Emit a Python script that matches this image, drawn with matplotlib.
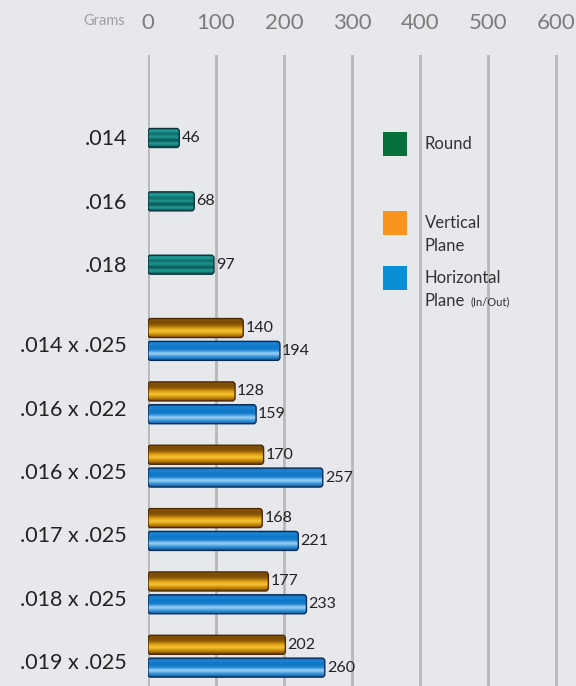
import numpy as np
import matplotlib.pyplot as plt
from matplotlib.patches import FancyBboxPatch, Rectangle
from matplotlib.colors import LinearSegmentedColormap

plt.rcParams['font.family'] = ['Lato', 'DejaVu Sans']

# data
roundLabels = ['.014', '.016', '.018']
roundValues = [46, 68, 97]
rectLabels = ['.014 x .025', '.016 x .022', '.016 x .025',
              '.017 x .025', '.018 x .025', '.019 x .025']
verticalValues = [140, 128, 170, 168, 177, 202]
horizontalValues = [194, 159, 257, 221, 233, 260]
xTicks = [0, 100, 200, 300, 400, 500, 600]
legendColors = ['#06703a', '#f7941d', '#0a8fd6']

W, H = 576, 686
pxPerGram = 0.68
x0 = 148  # pixel of 0 grams

fig = plt.figure(figsize=(W/100, H/100), dpi=100)
fig.patch.set_facecolor('#e6e8ec')
ax = fig.add_axes([x0/W, 0, (W-x0)/W, (H-55)/H])
ax.set_facecolor('none')
for s in ax.spines.values():
    s.set_visible(False)

# gradient colours for the glossy bars
cmRound = LinearSegmentedColormap.from_list('round', ['#0b4a4e', '#23a49d', '#0e6a69', '#1e9891',
                                                      '#0a5253', '#22a39c', '#0b4a4e'])
cmVert = LinearSegmentedColormap.from_list('vert', ['#9a6410', '#7a4a05', '#8a5808', '#d89a10',
                                                    '#f7c634', '#c88a0a', '#744503'])
cmHori = LinearSegmentedColormap.from_list('hori', ['#0a62ae', '#1c86d6', '#0f76c6', '#1a80d0',
                                                    '#a3d4f5', '#3a96dc', '#0a5aa4'])

barH = 0.30
def drawBar(y, value, cmap, edge):
    patch = FancyBboxPatch((0, y-barH/2), value, barH,
                           boxstyle='round,pad=0,rounding_size=4', mutation_aspect=0.012,
                           facecolor='none', edgecolor=edge, lw=1, zorder=3)
    ax.add_patch(patch)
    grad = np.linspace(0, 1, 64).reshape(-1, 1)
    im = ax.imshow(grad, cmap=cmap, extent=[0, value, y+barH/2, y-barH/2],
                   aspect='auto', interpolation='bicubic', zorder=2)
    im.set_clip_path(patch)
    ax.text(value+3, y, str(value), va='center', ha='left', fontsize=11.5, color='#222222')

labelX = (127-x0)/pxPerGram
# round wires
for i in range(len(roundValues)):
    drawBar(i, roundValues[i], cmRound, '#0a3438')
    ax.text(labelX, i+0.02, roundLabels[i], ha='right', va='center', fontsize=15.5, color='#222222')

# rectangular wires
for i in range(len(rectLabels)):
    yc = 3.18 + i
    drawBar(yc-0.18, verticalValues[i], cmVert, '#4a2800')
    drawBar(yc+0.18, horizontalValues[i], cmHori, '#0c2c55')
    ax.text(labelX, yc+0.11, rectLabels[i], ha='right', va='center', fontsize=15.5, color='#222222')

ax.set_xlim(0, (W-x0)/pxPerGram)
ax.set_ylim(8.65, -1.31)
for t in xTicks:
    ax.axvline(t, color='#b8b8b8', lw=2, zorder=1)

ax.xaxis.tick_top()
ax.set_xticks(xTicks)
ax.set_yticks([])
ax.tick_params(axis='x', length=0, pad=16, labelsize=16, labelcolor='#7c7c7c')
fig.text(125/W, 1-21/H, 'Grams', ha='right', va='center', fontsize=10.5, color='#a0a0a0')

# legend
sqTop = [132, 211, 266]
for i in range(3):
    fig.add_artist(Rectangle((383/W, 1-(sqTop[i]+24)/H), 24/W, 24/H, transform=fig.transFigure,
                             facecolor=legendColors[i], edgecolor='none'))
txtStyle = dict(ha='left', va='center', fontsize=12, color='#333333')
fig.text(425/W, 1-144/H, 'Round', **txtStyle)
fig.text(425/W, 1-223/H, 'Vertical', **txtStyle)
fig.text(425/W, 1-246/H, 'Plane', **txtStyle)
fig.text(425/W, 1-278/H, 'Horizontal', **txtStyle)
pTxt = fig.text(425/W, 1-301/H, 'Plane', **txtStyle)
ax.annotate('(In/Out)', xy=(1, 0), xycoords=pTxt, xytext=(4, 1), textcoords='offset points',
            ha='left', va='bottom', fontsize=8, color='#333333')

fig.savefig('out.png', dpi=100, facecolor=fig.get_facecolor())
